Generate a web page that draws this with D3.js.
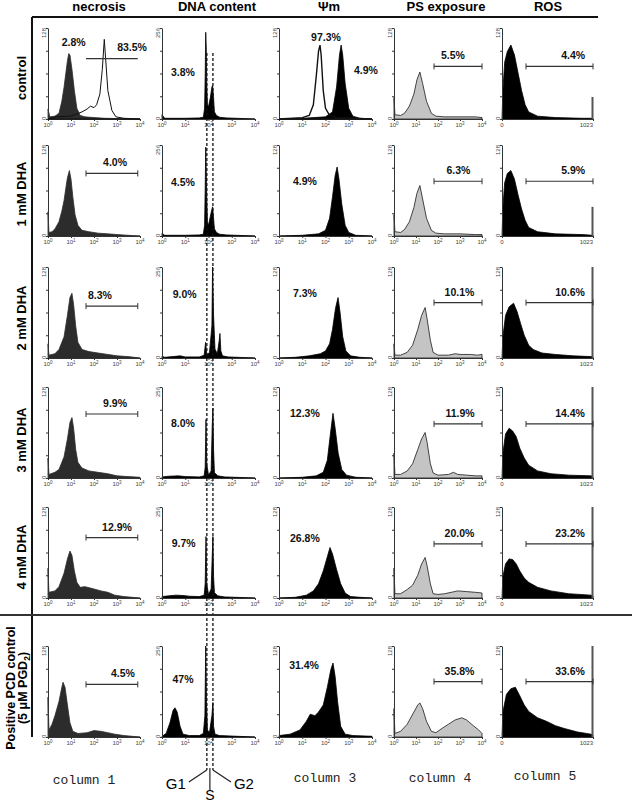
<!DOCTYPE html>
<html>
<head>
<meta charset="utf-8">
<script src="https://cdn.jsdelivr.net/npm/d3@7"></script>
<style>
  body { margin: 0; background: #fff; }
  svg { font-family: "Liberation Sans", Arial, sans-serif; }
</style>
</head>
<body>
<svg id="fig" width="632" height="803"></svg>
<script>
"use strict";

// Labels
var columnNames = ["necrosis", "DNA content", "\u03A8m", "PS exposure", "ROS"];
var rowNames = ["control", "1 mM DHA", "2 mM DHA", "3 mM DHA", "4 mM DHA"];
var footNames = ["column 1", "", "column 3", "column 4", "column 5"];

// Histograms, one list of [channel, count] per row (control ... positive control)
var necrosisHist = [
  [[1,14],[1.2,3],[2,4],[3,8],[4,25],[5,45],[6,65],[7,82],[8,92],[9,90],[11,70],[14,40],[18,15],[25,5],[40,3],[100,2],[300,1],[10000,0]],
  [[1,34],[1.1,5],[1.5,6],[2,10],[3,20],[4,35],[5,50],[6,68],[7,82],[8.5,92],[10,80],[12,55],[15,30],[20,15],[30,8],[60,6],[150,4],[400,3],[1000,2],[3000,1],[10000,0]],
  [[1,20],[1.1,4],[2,6],[3,12],[5,30],[7,60],[9,85],[11,91],[13,75],[16,45],[20,22],[30,12],[60,9],[150,7],[400,5],[1000,3],[3000,2],[10000,0]],
  [[1,28],[1.1,5],[2,8],[3,12],[5,30],[7,55],[9,78],[11,85],[13,70],[16,40],[20,22],[30,14],[60,10],[150,8],[400,6],[1000,3],[3000,2],[10000,1]],
  [[1,42],[1.1,8],[2,10],[3,16],[5,35],[7,55],[9,66],[11,60],[14,38],[18,22],[25,15],[40,16],[70,14],[120,12],[200,10],[400,8],[800,4],[2000,2],[10000,0]],
  [[1,56],[1.1,10],[1.5,18],[2,30],[3,50],[4,70],[4.5,77],[5.5,70],[7,45],[9,20],[12,8],[20,5],[50,6],[100,9],[200,8],[400,6],[800,4],[2000,2],[10000,0]]
];
var necrosisOpen = [[1,0],[2,3],[10,4],[30,10],[50,14],[70,18],[100,16],[130,20],[180,35],[230,70],[280,112],[320,85],[400,40],[600,12],[900,3],[2000,1],[10000,0]];

var dnaHist = [
  [[1,12],[1.3,2],[10,2],[40,3],[60,5],[68,30],[72,120],[76,244],[80,200],[84,100],[90,40],[100,35],[120,60],[140,90],[150,94],[165,60],[180,20],[220,10],[300,5],[600,3],[10000,0]],
  [[1,8],[1.3,2],[10,2],[40,3],[60,5],[68,30],[72,130],[76,250],[80,180],[84,110],[90,40],[100,30],[120,55],[140,75],[150,82],[165,50],[180,20],[220,10],[300,5],[600,3],[10000,0]],
  [[1,5],[1.3,2],[3,4],[6,6],[10,3],[40,3],[65,8],[75,44],[85,10],[110,15],[140,90],[150,256],[165,120],[190,25],[240,12],[290,50],[310,69],[340,20],[400,6],[700,3],[10000,0]],
  [[1,3],[2,5],[5,6],[10,4],[40,3],[65,6],[72,30],[78,165],[84,40],[100,8],[130,20],[145,150],[155,196],[165,80],[180,15],[250,6],[500,3],[10000,0]],
  [[1,4],[2,6],[4,8],[8,7],[15,5],[40,4],[65,8],[72,40],[78,173],[84,40],[100,10],[130,25],[145,120],[155,173],[165,60],[180,15],[250,6],[500,3],[10000,0]],
  [[1,2],[1.5,10],[2.2,40],[3,75],[3.6,82],[4.5,70],[6,30],[8,8],[15,4],[40,4],[60,10],[70,60],[76,256],[82,100],[90,20],[110,12],[140,60],[155,97],[165,30],[190,8],[300,4],[10000,0]]
];

var psiHist = [
  [[1,0],[10,1],[100,3],[200,10],[300,45],[400,90],[470,104],[550,90],[700,50],[1000,15],[1500,4],[3000,1],[10000,0]],
  [[1,0],[10,1],[50,3],[100,8],[150,25],[200,55],[260,85],[316,97],[380,80],[500,45],[700,15],[1000,5],[2000,1],[10000,0]],
  [[1,0],[5,1],[20,3],[60,6],[100,10],[150,20],[200,40],[270,70],[346,85],[420,65],[550,30],[750,10],[1200,3],[3000,1],[10000,0]],
  [[1,0],[10,1],[40,3],[80,8],[120,25],[160,60],[210,91],[260,70],[350,35],[500,12],[800,4],[2000,1],[10000,0]],
  [[1,0],[5,1],[15,4],[30,10],[50,20],[80,38],[120,58],[156,71],[200,62],[300,40],[450,20],[700,7],[1200,2],[3000,1],[10000,0]],
  [[1,2],[3,4],[8,10],[15,22],[22,32],[35,30],[50,35],[80,45],[120,70],[170,95],[210,104],[260,85],[330,50],[450,15],[700,4],[1500,2],[10000,1]]
];
var psiOpen = [[1,0],[10,2],[20,5],[30,20],[40,60],[50,95],[58,104],[65,90],[80,40],[100,15],[150,5],[300,2],[10000,0]];

var psHist = [
  [[1,30],[1.1,6],[2,5],[3,8],[5,18],[8,35],[11,55],[15,66],[20,50],[30,25],[50,8],[80,4],[200,3],[1000,3],[5000,3],[10000,2]],
  [[1,30],[1.1,6],[2,5],[3,9],[5,20],[8,40],[11,60],[15,71],[20,52],[30,25],[50,8],[80,4],[200,3],[1000,3],[5000,2],[10000,2]],
  [[1,20],[1.1,4],[2,4],[4,8],[7,18],[12,40],[18,60],[26,71],[32,55],[45,25],[60,8],[100,4],[300,4],[600,6],[1000,5],[3000,5],[6000,4],[10000,5]],
  [[1,35],[1.1,5],[2,5],[4,10],[7,20],[12,40],[18,55],[26,64],[32,50],[45,20],[60,7],[100,4],[300,5],[500,8],[800,5],[2000,4],[5000,3],[10000,3]],
  [[1,42],[1.1,6],[2,6],[4,12],[7,18],[12,32],[18,48],[26,57],[32,45],[45,20],[60,6],[100,5],[200,6],[400,8],[800,10],[2000,9],[5000,8],[10000,7]],
  [[1,40],[1.1,5],[2,8],[4,18],[8,35],[12,45],[15,48],[20,40],[30,22],[50,8],[80,6],[150,12],[300,18],[600,24],[1200,27],[2000,24],[4000,16],[7000,10],[10000,5]]
];

var rosHist = [
  [[0,0],[10,40],[30,80],[60,95],[100,104],[140,90],[180,65],[220,40],[260,20],[300,10],[400,4],[600,2],[900,1],[1022,1]],
  [[0,0],[10,40],[30,75],[60,88],[100,92],[140,80],[180,58],[220,38],[260,22],[300,12],[400,6],[600,3],[900,2],[1022,1]],
  [[0,0],[10,30],[40,60],[80,72],[130,77],[170,65],[210,48],[250,32],[300,18],[350,12],[450,7],[600,5],[800,3],[1000,2],[1022,2]],
  [[0,0],[10,35],[40,62],[80,70],[120,66],[160,58],[200,42],[250,28],[300,18],[400,10],[550,6],[750,4],[1000,3],[1022,2]],
  [[0,0],[10,30],[40,48],[80,55],[120,54],[160,48],[200,38],[250,28],[300,22],[400,15],[550,10],[750,6],[1000,4],[1022,3]],
  [[0,0],[10,35],[50,60],[100,68],[150,70],[200,58],[250,45],[300,36],[400,27],[500,22],[600,16],[700,12],[850,7],[1000,4],[1022,3]]
];
// counts piled up in the last (saturated) ROS channel, 1023
var rosLastBin = [31, 41, 128, 128, 128, 128];

// Percentages
var necrosisPct = ["83.5%", "4.0%", "8.3%", "9.9%", "12.9%", "4.5%"];
var necrosisCtlPct = "2.8%";
var dnaPct = ["3.8%", "4.5%", "9.0%", "8.0%", "9.7%", "47%"];
var psiPct = ["4.9%", "4.9%", "7.3%", "12.3%", "26.8%", "31.4%"];
var psiCtlPct = "97.3%";
var psPct = ["5.5%", "6.3%", "10.1%", "11.9%", "20.0%", "35.8%"];
var rosPct = ["4.4%", "5.9%", "10.6%", "14.4%", "23.2%", "33.6%"];

// Gates: channel range and count level of the marker bar
var necrosisGateRange = [45, 8000];
var psGateRange = [66, 10000];
var rosGateRange = [270, 1023];
var necrosisGate = [85, 88, 73, 90, 85, 74];
var psGate = [74, 77, 78, 76, 76, 78];
var rosGate = [74, 77, 78, 76, 76, 78];

// label anchors in data units [channel, count]
var necrosisLabelX = [4500, 820, 180, 820, 1000, 1800];
var dnaLabelAt = [[8,133],[8,153],[9.5,179],[8,156],[8.5,156],[8,162]];
var psiLabelAt = [[5500,69],[13,78],[13,91],[13,92],[13,84],[12,101]];
var psLabelX = [480, 850, 950, 1000, 950, 950];
var rosLabelX = [800, 800, 765, 765, 765, 765];

// cell cycle gates in the DNA column
var dnaPhaseLines = [85, 155];

// Layout
var colX0 = [48, 162, 279, 394, 502];
var colX1 = [140, 255, 372, 482, 593];
var rowBottom = [119, 236, 358, 478, 598, 737];
var panelH = 91;

var svg = d3.select("#fig");

var colSpec = [
  {hist: necrosisHist, fill: "#2c2c2c", stroke: "#2c2c2c", log: true, ymax: 128},
  {hist: dnaHist, fill: "#000", stroke: "#000", log: true, ymax: 256},
  {hist: psiHist, fill: "#000", stroke: "#000", log: true, ymax: 128},
  {hist: psHist, fill: "#c4c4c4", stroke: "#1a1a1a", log: true, ymax: 128},
  {hist: rosHist, fill: "#000", stroke: "#000", log: false, ymax: 128}
];

var scales = [];

rowBottom.forEach(function(yb, r) {
  scales.push([]);
  colSpec.forEach(function(cs, c) {
    var x = cs.log
      ? d3.scaleLog().domain([1, 10000]).range([colX0[c], colX1[c]])
      : d3.scaleLinear().domain([0, 1023]).range([colX0[c], colX1[c]]);
    var y = d3.scaleLinear().domain([0, cs.ymax]).range([yb, yb - panelH]);
    scales[r].push({x: x, y: y});

    var g = svg.append("g");
    var area = d3.area().x(function(d) { return x(d[0]); }).y0(yb).y1(function(d) { return y(d[1]); });

    g.append("path")
      .datum(cs.hist[r])
      .attr("d", area)
      .attr("fill", cs.fill)
      .attr("stroke", cs.stroke)
      .attr("stroke-width", 0.8)
      .attr("stroke-linejoin", "round");

    // y axis
    var yAx = g.append("g")
      .attr("transform", "translate(" + colX0[c] + ",0)")
      .call(d3.axisLeft(y).tickValues(d3.range(0, cs.ymax + 1, cs.ymax / 4)).tickSize(2).tickSizeOuter(0).tickFormat(""));
    yAx.selectAll("path, line").attr("stroke", "#333");

    g.append("text")
      .attr("transform", "translate(" + (colX0[c] - 2) + "," + (yb - panelH) + ") rotate(-90)")
      .attr("text-anchor", "end")
      .attr("font-size", 6)
      .attr("fill", "#444")
      .text(cs.ymax);
    g.append("text")
      .attr("transform", "translate(" + (colX0[c] - 2) + "," + (yb + 1) + ") rotate(-90)")
      .attr("text-anchor", "start")
      .attr("font-size", 6)
      .attr("fill", "#444")
      .text("0");

    // x axis
    var ticks = cs.log ? [1, 10, 100, 1000, 10000] : [0, 1023];
    var xAx = g.append("g")
      .attr("transform", "translate(0," + yb + ")")
      .call(d3.axisBottom(x).tickValues(ticks).tickSize(2).tickSizeOuter(0).tickFormat(""));
    xAx.selectAll("path, line").attr("stroke", "#333");

    if (cs.log) {
      ticks.forEach(function(t, i) {
        var tx = g.append("text")
          .attr("x", x(t))
          .attr("y", yb + 8)
          .attr("text-anchor", "middle")
          .attr("font-size", 6)
          .attr("fill", "#444");
        tx.append("tspan").text("10");
        tx.append("tspan").attr("dy", -2).attr("font-size", 4.5).text(i);
      });
    } else {
      g.append("text").attr("x", x(0)).attr("y", yb + 8).attr("text-anchor", "middle")
        .attr("font-size", 6).attr("fill", "#444").text("0");
      g.append("text").attr("x", x(1023)).attr("y", yb + 8).attr("text-anchor", "end")
        .attr("font-size", 6).attr("fill", "#444").text("1023");
    }
  });
});

// Saturated last ROS channel
rowBottom.forEach(function(yb, r) {
  var s = scales[r][4];
  svg.append("rect")
    .attr("x", s.x(1023) - 1.5).attr("width", 2)
    .attr("y", s.y(rosLastBin[r])).attr("height", yb - s.y(rosLastBin[r]))
    .attr("fill", "#555");
});

// Open (unstained) histograms in the control row
var s0 = scales[0];
svg.append("path")
  .datum(necrosisOpen)
  .attr("d", d3.area().x(function(d) { return s0[0].x(d[0]); }).y0(rowBottom[0]).y1(function(d) { return s0[0].y(d[1]); }))
  .attr("fill", "none").attr("stroke", "#111").attr("stroke-width", 1);
svg.append("path")
  .datum(psiOpen)
  .attr("d", d3.area().x(function(d) { return s0[2].x(d[0]); }).y0(rowBottom[0]).y1(function(d) { return s0[2].y(d[1]); }))
  .attr("fill", "none").attr("stroke", "#111").attr("stroke-width", 1.4);

// Gate marker bars
function gateBar(s, range, level, ends) {
  var yy = s.y(level), xa = s.x(range[0]), xb = s.x(range[1]);
  svg.append("line").attr("x1", xa).attr("x2", xb).attr("y1", yy).attr("y2", yy)
    .attr("stroke", "#333").attr("stroke-width", 1.2);
  if (ends) {
    [xa, xb].forEach(function(xe) {
      svg.append("line").attr("x1", xe).attr("x2", xe).attr("y1", yy - 3).attr("y2", yy + 3)
        .attr("stroke", "#333").attr("stroke-width", 1);
    });
  }
}

function pctText(x, y, t) {
  svg.append("text")
    .attr("x", x).attr("y", y)
    .attr("text-anchor", "middle")
    .attr("font-size", 10.5)
    .attr("font-weight", "bold")
    .attr("fill", "#111")
    .text(t);
}

rowBottom.forEach(function(yb, r) {
  var s = scales[r];
  // necrosis
  gateBar(s[0], necrosisGateRange, necrosisGate[r], r > 0);
  if (r === 0) {
    pctText(s[0].x(necrosisLabelX[r]), s[0].y(101) + 4, necrosisPct[r]);
    pctText(s[0].x(13), s[0].y(108) + 4, necrosisCtlPct);
  } else {
    pctText(s[0].x(necrosisLabelX[r]), s[0].y(necrosisGate[r]) - 7, necrosisPct[r]);
  }
  // DNA content
  pctText(s[1].x(dnaLabelAt[r][0]), s[1].y(dnaLabelAt[r][1]) + 4, dnaPct[r]);
  // mitochondrial potential
  pctText(s[2].x(psiLabelAt[r][0]), s[2].y(psiLabelAt[r][1]) + 4, psiPct[r]);
  if (r === 0) pctText(s[2].x(105), s[2].y(115) + 4, psiCtlPct);
  // PS exposure
  gateBar(s[3], psGateRange, psGate[r], true);
  pctText(s[3].x(psLabelX[r]), s[3].y(psGate[r]) - 7, psPct[r]);
  // ROS
  gateBar(s[4], rosGateRange, rosGate[r], true);
  pctText(s[4].x(rosLabelX[r]), s[4].y(rosGate[r]) - 7, rosPct[r]);
});

// G1 / G2 dashed guides through the DNA column
var dx = scales[0][1].x;
dnaPhaseLines.forEach(function(v) {
  svg.append("line")
    .attr("x1", dx(v)).attr("x2", dx(v)).attr("y1", 53).attr("y2", 770)
    .attr("stroke", "#111").attr("stroke-width", 1.3).attr("stroke-dasharray", "3,2");
});
var g1x = dx(dnaPhaseLines[0]), g2x = dx(dnaPhaseLines[1]), sx = (g1x + g2x) / 2;
svg.append("line").attr("x1", g1x).attr("y1", 770).attr("x2", g1x - 18).attr("y2", 782).attr("stroke", "#222").attr("stroke-width", 1.2);
svg.append("line").attr("x1", g2x).attr("y1", 770).attr("x2", g2x + 18).attr("y2", 782).attr("stroke", "#222").attr("stroke-width", 1.2);
svg.append("line").attr("x1", sx).attr("y1", 768).attr("x2", sx).attr("y2", 790).attr("stroke", "#222").attr("stroke-width", 1.2);
svg.append("text").attr("x", g1x - 21).attr("y", 789).attr("text-anchor", "end").attr("font-size", 15).text("G1");
svg.append("text").attr("x", g2x + 21).attr("y", 789).attr("text-anchor", "start").attr("font-size", 15).text("G2");
svg.append("text").attr("x", sx).attr("y", 800).attr("text-anchor", "middle").attr("font-size", 14).text("S");

// Frame lines
svg.append("line").attr("x1", 32).attr("x2", 598).attr("y1", 17).attr("y2", 17).attr("stroke", "#111").attr("stroke-width", 2);
svg.append("line").attr("x1", 32).attr("x2", 32).attr("y1", 17).attr("y2", 737).attr("stroke", "#111").attr("stroke-width", 2);
svg.append("line").attr("x1", 0).attr("x2", 632).attr("y1", 615).attr("y2", 615).attr("stroke", "#333").attr("stroke-width", 2);

// Column headers
var headerX = [99, 217, 329, 446, 548];
columnNames.forEach(function(n, i) {
  svg.append("text").attr("x", headerX[i]).attr("y", 11).attr("text-anchor", "middle")
    .attr("font-size", 13).attr("font-weight", "bold").text(n);
});

// Row labels
var rowLabelY = [78, 194, 318, 440, 557];
rowNames.forEach(function(n, i) {
  svg.append("text")
    .attr("transform", "translate(26," + rowLabelY[i] + ") rotate(-90)")
    .attr("text-anchor", "middle").attr("font-size", 13).attr("font-weight", "bold").text(n);
});
svg.append("text")
  .attr("transform", "translate(15,688) rotate(-90)")
  .attr("text-anchor", "middle").attr("font-size", 12.5).attr("font-weight", "bold")
  .text("Positive PCD control");
var pgd = svg.append("text")
  .attr("transform", "translate(27,688) rotate(-90)")
  .attr("text-anchor", "middle").attr("font-size", 12.5).attr("font-weight", "bold");
pgd.append("tspan").text("(5 \u03BCM PGD");
pgd.append("tspan").attr("font-size", 8.5).attr("dy", 2.5).text("2");
pgd.append("tspan").attr("dy", -2.5).text(")");

// Column footers
var footX = [84, 0, 325, 440, 545];
var footY = [784, 0, 782, 782, 780];
footNames.forEach(function(n, i) {
  if (!n) return;
  svg.append("text").attr("x", footX[i]).attr("y", footY[i]).attr("text-anchor", "middle")
    .style("font-family", "'Liberation Mono', 'Courier New', monospace")
    .attr("font-size", 13).attr("fill", "#222").text(n);
});
</script>
</body>
</html>
